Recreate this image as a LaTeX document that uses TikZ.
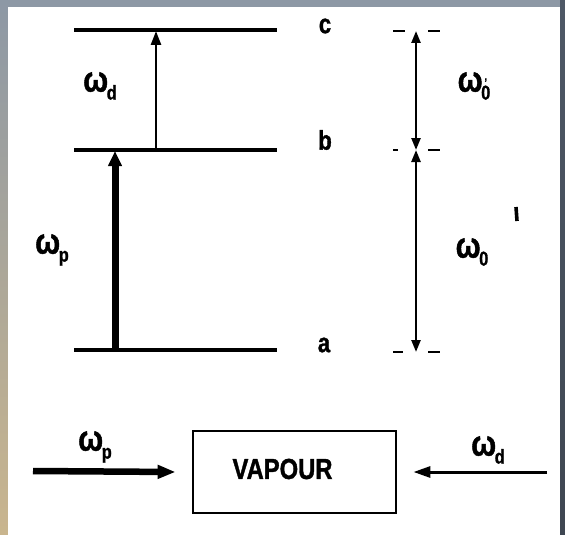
\documentclass[tikz,border=0pt]{standalone}
\usepackage{fontspec}
\setmainfont[FakeStretch=0.82]{Liberation Sans}
\usetikzlibrary{arrows.meta, positioning, calc}
\definecolor{frTop}{HTML}{8D98A5}
\definecolor{frTan}{HTML}{C9B58E}
\definecolor{frDark}{HTML}{4E5866}
\newcommand{\om}[1]{ω\kern-0.04em\raisebox{-0.22em}{\fontsize{20}{20}\selectfont #1}}
\newcommand{\heavy}{\bfseries\addfontfeatures{FakeBold=1.2}}
\tikzset{
  lvl/.style={line width=3.2pt},
  A/.style={-{Triangle[length=14pt,width=10pt]}, line width=2.6pt},
  Ab/.style={-{Triangle[length=15pt,width=13pt]}, line width=7pt},
  AA/.style={{Triangle[length=12pt,width=9pt]}-{Triangle[length=12pt,width=9pt]}, line width=2.4pt},
  dsh/.style={line width=2.6pt},
  om/.style={font=\fontsize{36}{36}\selectfont\heavy, inner sep=0pt},
  lab/.style={font=\fontsize{27}{27}\selectfont\heavy, inner sep=0pt},
  vbox/.style={draw, line width=2.8pt, minimum width=203pt, minimum height=82pt, inner sep=0pt},
}
\begin{document}
\begin{tikzpicture}[x=1pt, y=-1pt]
\useasboundingbox (0,0) rectangle (565,535);

% ── frame ───────────────────────────────────────────────────────────────────
\shade[left color=frTop, right color=frTop] (0,0) rectangle (565,7);
\shade[top color=frTop, bottom color=frTan] (0,0) rectangle (8,535);
\shade[top color=frDark, bottom color=frDark!80!black] (560,0) rectangle (565,535);
\fill[white] (8,7) rectangle (560,535);

% ── levels c, b, a ──────────────────────────────────────────────────────────
\coordinate (cL) at (74,30);  \coordinate (cR) at (277,30);
\coordinate (bL) at (74,150); \coordinate (bR) at (277,150);
\coordinate (aL) at (74,350); \coordinate (aR) at (277,350);
\draw[lvl] (cL) -- (cR);
\draw[lvl] (bL) -- (bR);
\draw[lvl] (aL) -- (aR);
\node[lab] (lc) at (325,26) {c};
\node[lab] (lb) at (325,140) {b};
\node[lab] (la) at (324,345) {a};

% pump and drive transitions
\coordinate (pA) at (115,350); \coordinate (pB) at (115,151);
\coordinate (dB) at (156,150); \coordinate (dC) at (156,31);
\draw[Ab] (pA) -- (pB);
\draw[A] (dB) -- (dC);
\node[om] (wp) at (52,250) {\om{p}};
\node[om] (wd) at (100,86) {\om{d}};

% ── splittings on the right ─────────────────────────────────────────────────
\coordinate (r0) at (416,31);
\coordinate (r1) at (416,150);
\coordinate (r2) at (416,352);
\draw[AA] (r0) -- (r1);
\draw[AA] (r1) -- (r2);
\draw[dsh] (393,31) -- (405,31) (428,31) -- (440,31);
\draw[dsh] (393,150) -- (398,150) (428,150) -- (440,150);
\draw[dsh] (393,352) -- (403,352) (428,352) -- (440,352);
\node[om] (w0p) at (474,86) {ω\kern-0.04em\raisebox{-0.22em}{\fontsize{20}{20}\selectfont\shortstack{\fontsize{12}{6}\selectfont'\\[-4pt]0}}};
\node[om] (w0) at (472,252) {\om{0}};
\draw[line width=3.6pt] (516,207) -- (517,221);

% ── vapour cell with both beams ─────────────────────────────────────────────
\node[vbox] (vap) at (294.5,472) {};
\node[font=\fontsize{29}{29}\selectfont\heavy, inner sep=0pt] (vtxt) at (282.5,469) {VAPOUR};
\coordinate (pIn) at (33,471);
\coordinate (dIn) at (547,472);
\draw[Ab, line width=6.5pt, -{Triangle[length=18pt,width=13pt]}] (pIn) -- ([xshift=-16pt]vap.west);
\draw[A, line width=3pt, -{Triangle[length=17pt,width=11pt]}] (dIn) -- ([xshift=16pt]vap.east);
\node[om] (wp2) at (95,447) {\om{p}};
\node[om] (wd2) at (488,450) {\om{d}};

\end{tikzpicture}
\end{document}
